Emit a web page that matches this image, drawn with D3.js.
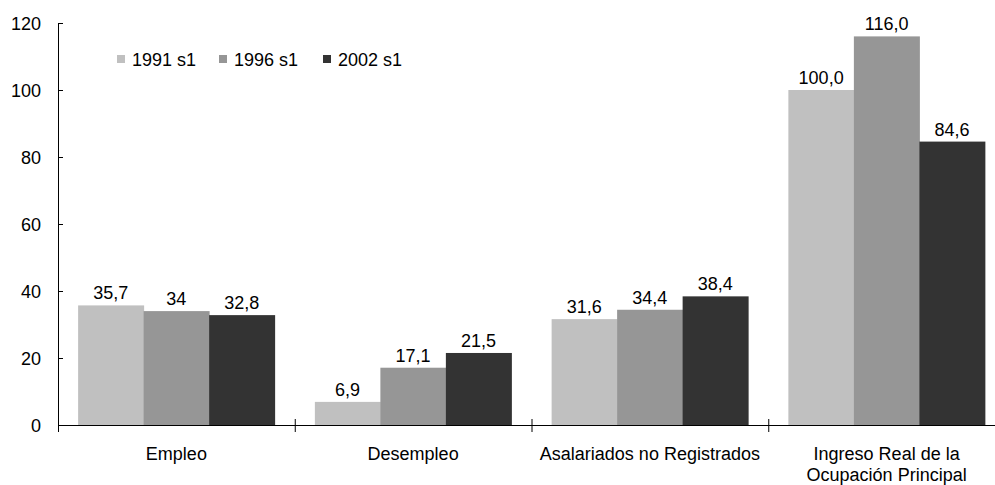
<!DOCTYPE html>
<html><head><meta charset="utf-8">
<script src="https://cdn.jsdelivr.net/npm/d3@7"></script>
<style>body{margin:0;background:#fff}svg{display:block}text{font-family:"Liberation Sans",Arial,sans-serif;fill:#000}</style>
</head><body><svg id="c" width="995" height="485"></svg>
<script>
const categories = [["Empleo"],["Desempleo"],["Asalariados no Registrados"],["Ingreso Real de la","Ocupación Principal"]];
const seriesNames = ["1991 s1","1996 s1","2002 s1"];
const seriesColors = ["#c0c0c0","#969696","#333333"];
const values = [[35.7,34,32.8],[6.9,17.1,21.5],[31.6,34.4,38.4],[100.0,116.0,84.6]];
const labels = [["35,7","34","32,8"],["6,9","17,1","21,5"],["31,6","34,4","38,4"],["100,0","116,0","84,6"]];
const yTicks = [0,20,40,60,80,100,120];

(function(){
const svg = d3.select("#c");
const FS = 18;
const mL = 58, mR = 1005, mT = 23, mB = 425;
const x = d3.scaleBand().domain(d3.range(categories.length)).range([mL,mR]).padding(0);
const gap = x.bandwidth()*0.085;
const xs = d3.scaleBand().domain(d3.range(seriesNames.length)).range([gap, x.bandwidth()-gap]).padding(0);
const y = d3.scaleLinear().domain([0,120]).range([mB,mT]);

const g = svg.append("g");
categories.forEach((c,i)=>{
  values[i].forEach((v,j)=>{
    g.append("rect").attr("x",x(i)+xs(j)).attr("width",xs.bandwidth()+0.5)
      .attr("y",y(v)).attr("height",y(0)-y(v)).attr("fill",seriesColors[j]);
    g.append("text").attr("x",x(i)+xs(j)+xs.bandwidth()/2).attr("y",y(v)-6)
      .attr("text-anchor","middle").attr("font-size",FS).text(labels[i][j]);
  });
});

const ya = svg.append("g").attr("transform",`translate(${mL},0)`)
  .call(d3.axisRight(y).tickValues(yTicks).tickSize(5).tickFormat(""));
ya.select(".domain").attr("stroke","#000").attr("d",`M0.5,${mT}V${mB+7}`);
ya.selectAll(".tick line").attr("stroke","#000");
yTicks.forEach(t=>{
  svg.append("text").attr("x",41).attr("y",y(t)+6.5).attr("text-anchor","end").attr("font-size",FS).text(t);
});

svg.append("line").attr("x1",mL).attr("x2",995).attr("y1",mB+0.5).attr("y2",mB+0.5).attr("stroke","#000");
d3.range(1,categories.length).forEach(i=>{
  svg.append("line").attr("x1",x(i)+0.5).attr("x2",x(i)+0.5).attr("y1",mB-6).attr("y2",mB+7).attr("stroke","#000");
});
categories.forEach((c,i)=>{
  c.forEach((line,k)=>{
    svg.append("text").attr("x",x(i)+x.bandwidth()/2).attr("y",460+k*21)
      .attr("text-anchor","middle").attr("font-size",FS).text(line);
  });
});

const legX = [117,219,323];
seriesNames.forEach((s,j)=>{
  svg.append("rect").attr("x",legX[j]).attr("y",55).attr("width",8).attr("height",8).attr("fill",seriesColors[j]);
  svg.append("text").attr("x",legX[j]+15).attr("y",66).attr("font-size",FS).text(s);
});
})();
</script></body></html>
